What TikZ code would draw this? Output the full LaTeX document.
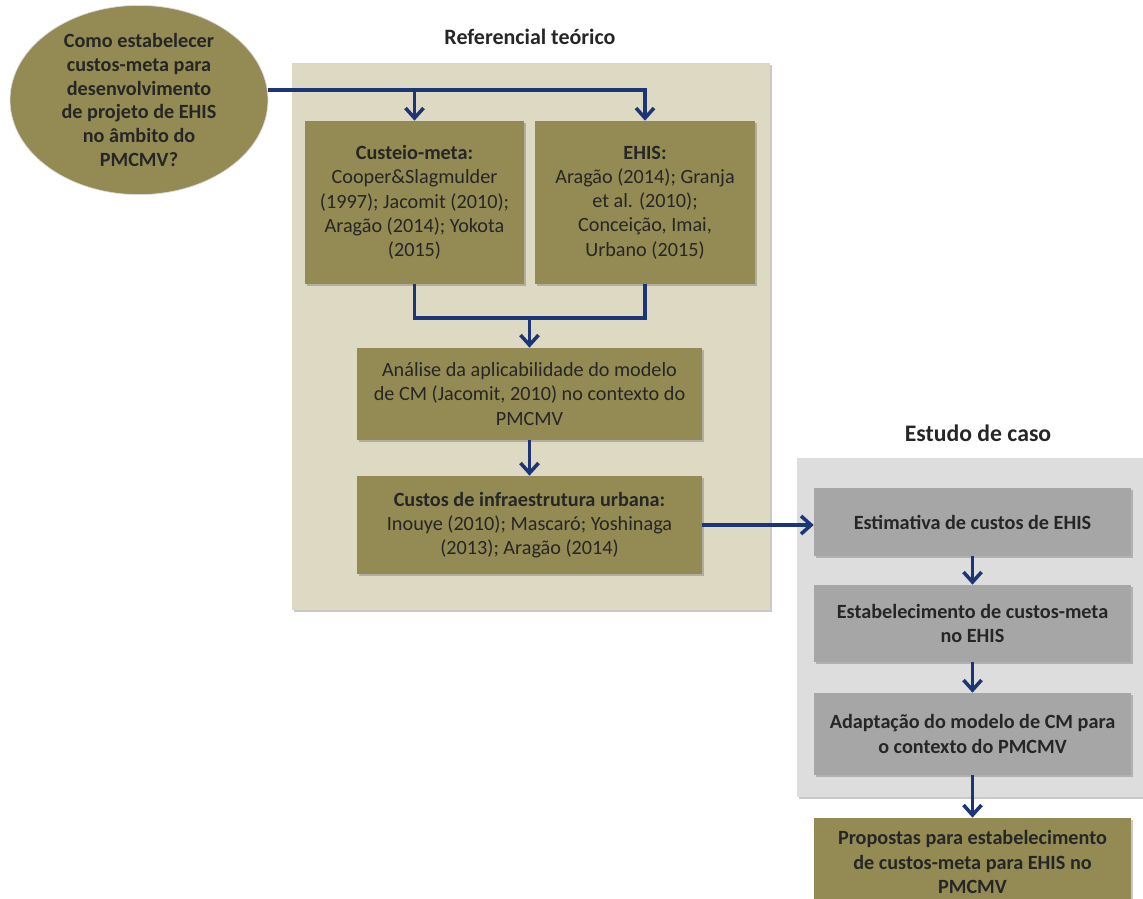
\documentclass[tikz,border=0pt]{standalone}
\usepackage{fontspec}
\setmainfont{Carlito}
\usetikzlibrary{arrows.meta, positioning, shapes.geometric, shadows}
\definecolor{olivebox}{HTML}{948A54}
\definecolor{tanpanel}{HTML}{DDD9C3}
\definecolor{greypanel}{HTML}{DDDDDD}
\definecolor{greybox}{HTML}{A6A6A6}
\definecolor{linkblue}{HTML}{1B3577}
\definecolor{inktext}{HTML}{262626}

\begin{document}
\begin{tikzpicture}[
    x=0.02cm, y=-0.02cm,
    softshadow/.style={drop shadow={shadow xshift=1.2pt, shadow yshift=-1.4pt, opacity=0.3, fill=black!70}},
    box/.style={fill=#1, draw=none, align=center, inner sep=2pt, text=inktext, font=\fontsize{11.5}{13.8}\selectfont, softshadow},
    heading/.style={font=\fontsize{#1}{#1}\selectfont\bfseries, text=inktext},
    pipe/.style={line width=2pt, linkblue},
    link/.style={pipe, -{Straight Barb[length=2mm, width=3.6mm]}},
]
    \useasboundingbox (0,0) rectangle (1143,899);

    % Panels
    \fill[tanpanel, softshadow] (292,63) rectangle (770,610);
    \fill[greypanel, softshadow] (797,458) rectangle (1143,797);
    \node[heading=12.5] (reftitle) at (530,37) {Referencial teórico};
    \node[heading=13.5] (casetitle) at (978,433) {Estudo de caso};

    % Research question
    \node[ellipse, fill=olivebox, draw=black!15, inner sep=0pt, minimum width=5.16cm, minimum height=3.68cm,
          align=center, text=inktext, font=\fontsize{11.5}{13.6}\selectfont\bfseries] (quest) at (139,100)
          {Como estabelecer\\custos-meta para\\desenvolvimento\\de projeto de EHIS\\no âmbito do\\PMCMV?};

    % Theory boxes
    \node[box=olivebox, minimum width=4.38cm, minimum height=3.26cm] (custeio) at (414.5,202.5)
          {\textbf{Custeio-meta:}\\Cooper\&Slagmulder\\(1997); Jacomit (2010);\\Aragão (2014); Yokota\\(2015)};
    \node[box=olivebox, minimum width=4.4cm, minimum height=3.26cm] (ehis) at (645,202.5)
          {\textbf{EHIS:}\\Aragão (2014); Granja\\et al. (2010);\\Conceição, Imai,\\Urbano (2015)};
    \node[box=olivebox, minimum width=6.9cm, minimum height=1.84cm] (analise) at (529.5,394)
          {Análise da aplicabilidade do modelo\\de CM (Jacomit, 2010) no contexto do\\PMCMV};
    \node[box=olivebox, minimum width=6.9cm, minimum height=1.96cm] (custos) at (529.5,525)
          {\textbf{Custos de infraestrutura urbana:}\\Inouye (2010); Mascaró; Yoshinaga\\(2013); Aragão (2014)};

    % Case study boxes
    \node[box=greybox, minimum width=6.34cm, minimum height=1.36cm, font=\fontsize{11.5}{13.8}\selectfont\bfseries] (estim) at (972.5,522)
          {Estimativa de custos de EHIS};
    \node[box=greybox, minimum width=6.34cm, minimum height=1.54cm, font=\fontsize{11.5}{13.8}\selectfont\bfseries] (estab) at (972.5,623.5)
          {Estabelecimento de custos-meta\\no EHIS};
    \node[box=greybox, minimum width=6.34cm, minimum height=1.64cm, font=\fontsize{11.5}{13.8}\selectfont\bfseries] (adapt) at (972.5,734)
          {Adaptação do modelo de CM para\\o contexto do PMCMV};
    \node[box=olivebox, minimum width=6.34cm, minimum height=1.76cm, font=\fontsize{11.5}{13.8}\selectfont\bfseries] (propostas) at (972.5,862)
          {Propostas para estabelecimento\\de custos-meta para EHIS no\\PMCMV};

    % Connectors
    \coordinate (fork) at (0,90);
    \coordinate (merge) at (0,318);
    \draw[link] (quest.east |- fork) -| (ehis.north);
    \draw[link] (custeio.north |- fork) -- (custeio.north);
    \draw[pipe] (custeio.south) -- (custeio.south |- merge) -- (ehis.south |- merge) -- (ehis.south);
    \draw[link] (analise.north |- merge) -- (analise.north);
    \draw[link] (analise) -- (custos);
    \draw[link] (custos.east) -- (custos.east -| estim.west);
    \draw[link] (estim) -- (estab);
    \draw[link] (estab) -- (adapt);
    \draw[link] (adapt) -- (propostas);
\end{tikzpicture}
\end{document}
